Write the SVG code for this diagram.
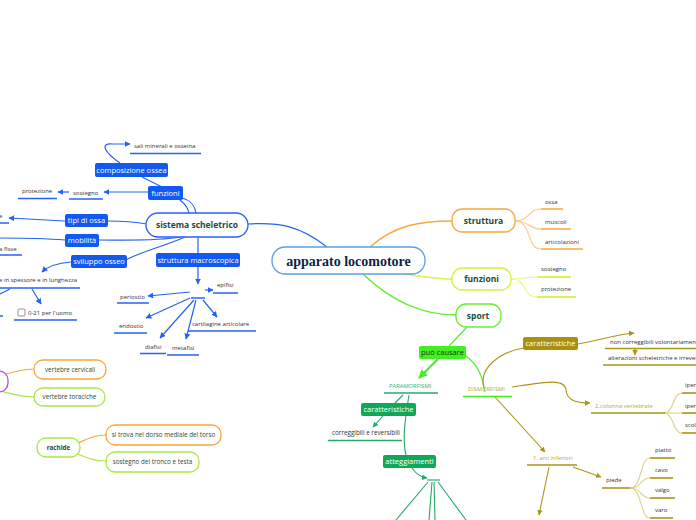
<svg xmlns="http://www.w3.org/2000/svg" width="696" height="520" viewBox="0 0 696 520">
<defs>
<style>
text{font-family:"Open Sans","Noto Sans",sans-serif;}
.sub{font-size:6px;fill:#333;}
.bx{font-size:7.5px;fill:#fff;text-anchor:middle;}
.nd{font-size:8.5px;font-weight:bold;fill:#1b4a3a;text-anchor:middle;}
.nds{font-size:6.3px;fill:#2a4a3a;text-anchor:middle;}
.bl{stroke:#2462f2;stroke-width:1.2;fill:none;}
.blu{stroke:#2462f2;stroke-width:1.5;fill:none;}
.gr{stroke:#22aa66;stroke-width:1.1;fill:none;}
.ol{stroke:#aa9418;stroke-width:1.1;fill:none;}
.olu{stroke:#aa9418;stroke-width:1.6;fill:none;}
.oll{stroke:#dcd088;stroke-width:1.1;fill:none;}
.node{fill:#fff;stroke-width:1.3;}
</style>
<marker id="ab" viewBox="0 0 10 10" refX="9" refY="5" markerWidth="5" markerHeight="5" orient="auto"><path d="M0,0 L10,5 L0,10 z" fill="#2462f2"/></marker>
<marker id="ag" viewBox="0 0 10 10" refX="9" refY="5" markerWidth="5" markerHeight="5" orient="auto"><path d="M0,0 L10,5 L0,10 z" fill="#22aa66"/></marker>
<marker id="agl" viewBox="0 0 10 10" refX="9" refY="5" markerWidth="4" markerHeight="4" orient="auto"><path d="M0,0 L10,5 L0,10 z" fill="#44ee22"/></marker>
<marker id="ao" viewBox="0 0 10 10" refX="9" refY="5" markerWidth="5" markerHeight="5" orient="auto"><path d="M0,0 L10,5 L0,10 z" fill="#aa9418"/></marker>
</defs>
<rect width="696" height="520" fill="#fff"/>

<g id="connectors">
<path d="M327,247 C300,226 280,222 248,224" class="bl" stroke-width="1.5"/>
<path d="M370,247 C395,225 420,221 452,221" fill="none" stroke="#f8a838" stroke-width="1.5"/>
<path d="M405,274 C430,278 440,279 452,279" fill="none" stroke="#dcf050" stroke-width="1.5"/>
<path d="M363,274 C390,300 420,315 456,315" fill="none" stroke="#66ee33" stroke-width="1.5"/>
<path d="M180,200 C185,204 188,208 189,213" class="bl"/>
<path d="M182,198 C190,200 195,206 196,213" class="bl"/>
<path d="M162,187 L142,177" class="bl"/>
<path d="M120,163 C104,152 100,143 112,144 L130,144" class="bl" marker-end="url(#ab)"/>
<path d="M148,192 L104,192" class="bl" marker-end="url(#ab)"/>
<path d="M69,192 L58,192" class="bl" marker-end="url(#ab)"/>
<path d="M147,224 C130,221 120,221 108,221" class="bl"/>
<path d="M65,221 L9,218" class="bl" marker-end="url(#ab)"/>
<path d="M180,237 C160,241 130,240 99,240" class="bl"/>
<path d="M65,240 C40,238 20,238 0,238" class="bl"/>
<path d="M185,237 C165,246 140,252 126,260" class="bl"/>
<path d="M71,262 C58,263 48,266 42,272" class="bl" marker-end="url(#ab)"/>
<path d="M32,289 L41,304" class="bl" marker-end="url(#ab)"/>
<path d="M10,289 L0,294" class="bl"/>
<path d="M198,237 L198,253" class="bl"/>
<path d="M198,267 L198,284" class="bl" marker-end="url(#ab)"/>
<path d="M205,290 L213,290" class="bl" marker-end="url(#ab)"/>
<path d="M190,292 L148,296" class="bl" marker-end="url(#ab)"/>
<path d="M190,298 L146,318" class="bl" marker-end="url(#ab)"/>
<path d="M194,300 L160,338" class="bl" marker-end="url(#ab)"/>
<path d="M196,300 L186,339" class="bl" marker-end="url(#ab)"/>
<path d="M203,300 L217,317" class="bl" marker-end="url(#ab)"/>
<path d="M0,376 C12,372 22,369 34,369" fill="none" stroke="#f8a838" stroke-width="1.2"/>
<path d="M0,391 C12,394 22,397 34,397" fill="none" stroke="#a8e848" stroke-width="1.2"/>
<path d="M78,443 C90,438 95,435 106,435" fill="none" stroke="#f8a838" stroke-width="1.2"/>
<path d="M78,454 C90,459 95,461 106,461" fill="none" stroke="#a8e848" stroke-width="1.2"/>
<path d="M515,221 C530,221 528,209 541,209" fill="none" stroke="#fcc888" stroke-width="1.1"/>
<path d="M515,221 C530,221 528,229 541,229" fill="none" stroke="#fcc888" stroke-width="1.1"/>
<path d="M515,221 C532,221 526,249 541,249" fill="none" stroke="#fcc888" stroke-width="1.1"/>
<path d="M511,279 C525,279 525,277 537,277" fill="none" stroke="#e8f590" stroke-width="1.1"/>
<path d="M511,279 C528,279 522,297 537,297" fill="none" stroke="#e8f590" stroke-width="1.1"/>
<path d="M467,327 L449,346" fill="none" stroke="#55ee33" stroke-width="1.2"/>
<path d="M438,359 L419,378" fill="none" stroke="#44ee22" stroke-width="2.2" marker-end="url(#agl)"/>
<path d="M466,356 C478,365 482,375 485,392" fill="none" stroke="#55ee33" stroke-width="1.2"/>
<path d="M403,395 L395,403" class="gr"/>
<path d="M383,416 L373,427" class="gr" marker-end="url(#ag)"/>
<path d="M409,395 C405,420 402,440 406,455" class="gr"/>
<path d="M412,468 C416,474 420,477 427,478" class="gr" marker-end="url(#ag)"/>
<path d="M427,480 L440,480" class="gr" stroke-width="1.5"/>
<path d="M428,482 L396,520" class="gr"/>
<path d="M432,482 L429,520" class="gr"/>
<path d="M434,482 L435,520" class="gr"/>
<path d="M438,482 L466,520" class="gr"/>
<path d="M484,388 C478,368 500,352 524,348" class="ol"/>
<path d="M578,344 C600,340 615,335 634,333" class="ol" marker-end="url(#ao)"/>
<path d="M635,349 L635,355" class="ol" marker-end="url(#ao)"/>
<path d="M512,387 C545,382 565,378 566,390 C567,400 575,403 590,403" class="ol" marker-end="url(#ao)"/>
<path d="M663,413 C675,413 672,393 682,393" class="oll"/>
<path d="M663,413 L682,413" class="oll"/>
<path d="M663,413 C675,413 672,433 682,433" class="oll"/>
<path d="M495,397 L545,452" class="ol" marker-end="url(#ao)"/>
<path d="M573,467 L601,477" class="ol" marker-end="url(#ao)"/>
<path d="M549,467 L539,515" class="ol" marker-end="url(#ao)"/>
<path d="M630,488 C642,488 640,458 650,458" class="oll"/>
<path d="M630,488 C642,488 640,478 650,478" class="oll"/>
<path d="M630,488 C642,488 640,498 650,498" class="oll"/>
<path d="M630,488 C642,488 640,518 650,518" class="oll"/>
</g>

<g id="central">
<rect x="272" y="247" width="153" height="27" rx="13" class="node" stroke="#5aa0e0"/>
<text x="348.5" y="265.5" text-anchor="middle" style="font-family:'Liberation Serif',serif;font-size:14px;font-weight:bold;fill:#0d1f45">apparato locomotore</text>
</g>

<g id="sistema">
<rect x="146" y="213" width="102" height="24" rx="12" class="node" stroke="#2a5cff"/>
<text x="197" y="228" class="nd">sistema scheletrico</text>
</g>
<g id="composizione"><rect x="95" y="163" width="73" height="14" rx="2" fill="#1259f2"/><text x="131.5" y="172.7" class="bx">composizione ossea</text></g>
<g id="sali"><text x="134" y="148" class="sub">sali minerali e osseina</text><line x1="130" y1="153.5" x2="201" y2="153.5" class="blu"/></g>
<g id="funzioni1"><rect x="148" y="186" width="35" height="14" rx="2" fill="#1259f2"/><text x="165.5" y="195.6" class="bx">funzioni</text></g>
<g id="sostegno1"><text x="73" y="194.5" class="sub">sostegno</text><line x1="69" y1="199" x2="103" y2="199" class="blu"/></g>
<g id="protezione1"><text x="22" y="193" class="sub">protezione</text><line x1="18" y1="198.5" x2="57" y2="198.5" class="blu"/></g>
<g id="tipi"><rect x="65" y="214" width="43" height="13" rx="2" fill="#1259f2"/><text x="86.5" y="223" class="bx">tipi di ossa</text></g>
<g id="tipi-sub"><text x="-1" y="218" class="sub">e</text><line x1="0" y1="223" x2="9" y2="223" class="blu"/></g>
<g id="mobilita"><rect x="65" y="234" width="34" height="13" rx="2" fill="#1259f2"/><text x="82" y="243" class="bx">mobilità</text></g>
<g id="fisse"><text x="-1" y="251" class="sub">a fisse</text><line x1="0" y1="255" x2="22" y2="255" class="blu"/></g>
<g id="sviluppo"><rect x="71" y="255" width="56" height="13" rx="2" fill="#1259f2"/><text x="99" y="264" class="bx">sviluppo osseo</text></g>
<g id="spessore"><text x="-1" y="282" class="sub">e in spessore e in lunghezza</text><line x1="0" y1="288" x2="80" y2="288" class="blu"/></g>
<g id="small"><line x1="0" y1="316" x2="3" y2="316" class="blu"/></g>
<g id="uomo"><rect x="18" y="309" width="7" height="7" rx="1" fill="#fff" stroke="#777" stroke-width="0.8"/><text x="28" y="315" class="sub">0-21 per l'uomo</text><line x1="14" y1="320" x2="77" y2="320" class="blu"/></g>
<g id="macro"><rect x="156" y="253" width="84" height="14" rx="2" fill="#1259f2"/><text x="198" y="262.6" class="bx">struttura macroscopica</text></g>
<g id="hub1"><line x1="191" y1="298" x2="205" y2="298" class="blu"/></g>
<g id="epifisi"><text x="217" y="287" class="sub">epifisi</text><line x1="213" y1="293" x2="238" y2="293" class="blu"/></g>
<g id="periostio"><text x="120" y="299" class="sub">periostio</text><line x1="117" y1="303" x2="149" y2="303" class="blu"/></g>
<g id="endostio"><text x="119" y="328" class="sub">endostio</text><line x1="114" y1="333" x2="147" y2="333" class="blu"/></g>
<g id="diafisi"><text x="145" y="349" class="sub">diafisi</text><line x1="140" y1="353.5" x2="166" y2="353.5" class="blu"/></g>
<g id="metafisi"><text x="172" y="350" class="sub">metafisi</text><line x1="167" y1="355" x2="199" y2="355" class="blu"/></g>
<g id="cartilagine"><text x="192" y="326" class="sub">cartilagine articolare</text><line x1="188" y1="331" x2="256" y2="331" class="blu"/></g>

<g id="purple"><rect x="-60" y="371" width="68" height="21" rx="9" class="node" stroke="#b848e8"/></g>
<g id="cervicali"><rect x="34" y="360" width="72" height="19" rx="9" class="node" stroke="#f8a838"/><text x="70" y="371.5" class="nds">vertebre cervicali</text></g>
<g id="toraciche"><rect x="34" y="388" width="71" height="18" rx="9" class="node" stroke="#a8e848"/><text x="69.5" y="399" class="nds">vertebre toraciche</text></g>
<g id="rachide"><rect x="37" y="438" width="43" height="19" rx="9" class="node" stroke="#a8e848"/><text x="58.5" y="450" class="nds" style="font-weight:bold">rachide</text></g>
<g id="dorso"><rect x="106" y="425" width="115" height="20" rx="9" class="node" stroke="#f8a838"/><text x="163.5" y="437" class="nds">si trova nel dorso mediale del torso</text></g>
<g id="tronco"><rect x="106" y="452" width="93" height="20" rx="9" class="node" stroke="#a8e848"/><text x="152.5" y="464" class="nds">sostegno del tronco e testa</text></g>

<g id="struttura"><rect x="452" y="209" width="63" height="23" rx="10" class="node" stroke="#f8a838"/><text x="483.5" y="223.5" class="nd">struttura</text></g>
<g id="ossa"><text x="545" y="204" class="sub">ossa</text><line x1="541" y1="209" x2="563" y2="209" stroke="#f8a838" stroke-width="1.5"/></g>
<g id="muscoli"><text x="545" y="224" class="sub">muscoli</text><line x1="541" y1="229" x2="571" y2="229" stroke="#f8a838" stroke-width="1.5"/></g>
<g id="articolazioni"><text x="545" y="244" class="sub">articolazioni</text><line x1="541" y1="249" x2="583" y2="249" stroke="#f8a838" stroke-width="1.5"/></g>
<g id="funzioni2"><rect x="452" y="268" width="59" height="22" rx="10" class="node" stroke="#d4f040"/><text x="481.5" y="282" class="nd">funzioni</text></g>
<g id="sostegno2"><text x="541" y="271" class="sub">sostegno</text><line x1="537" y1="277" x2="571" y2="277" stroke="#ccf020" stroke-width="1.5"/></g>
<g id="protezione2"><text x="541" y="291" class="sub">protezione</text><line x1="537" y1="297" x2="576" y2="297" stroke="#ccf020" stroke-width="1.5"/></g>
<g id="sport"><rect x="456" y="304" width="45" height="23" rx="10" class="node" stroke="#66ee33"/><text x="478" y="318.5" class="nd">sport</text></g>
<g id="puo"><rect x="419" y="346" width="47" height="13" rx="2" fill="#44ee22"/><text x="442.5" y="355" class="bx" style="fill:#1c3a1c">può causare</text></g>

<g id="paramorfismi"><text x="389" y="388" style="font-size:5.8px;fill:#30b070">PARAMORFISMI</text><line x1="384" y1="393" x2="438" y2="393" stroke="#22aa66" stroke-width="1.5"/></g>
<g id="caratt1"><rect x="361" y="403" width="55" height="13" rx="2" fill="#10a858"/><text x="388.5" y="412" class="bx">caratteristiche</text></g>
<g id="correggibili"><text x="332" y="435" class="sub" style="font-size:6.3px">correggibili e reversibili</text><line x1="328" y1="440.5" x2="402" y2="440.5" stroke="#22aa66" stroke-width="1.5"/></g>
<g id="atteggiamenti"><rect x="383" y="455" width="53" height="13" rx="2" fill="#10a858"/><text x="409.5" y="464" class="bx">atteggiamenti</text></g>

<g id="dismorfismi"><text x="468" y="391" style="font-size:5.8px;fill:#b8a838">DISMORFISMI</text><line x1="463" y1="396.5" x2="512" y2="396.5" stroke="#44ee22" stroke-width="1.5"/></g>
<g id="caratt2"><rect x="523" y="337" width="55" height="13" rx="2" fill="#a89010"/><text x="550.5" y="346" class="bx">caratteristiche</text></g>
<g id="noncorr"><text x="610" y="344" class="sub">non correggibili volontariamente</text><line x1="605" y1="348.5" x2="700" y2="348.5" class="olu"/></g>
<g id="alterazioni"><text x="608" y="360" class="sub">alterazioni scheletriche e irreversibili</text><line x1="603" y1="365" x2="700" y2="365" class="olu"/></g>
<g id="colonna"><text x="595" y="408" style="font-size:6px;fill:#b8a838">2.colonna vertebrale</text><line x1="591" y1="413" x2="665" y2="413" class="olu"/></g>
<g id="iper1"><text x="685" y="387" class="sub">ipercifosi</text><line x1="682" y1="393" x2="700" y2="393" class="olu"/></g>
<g id="iper2"><text x="685" y="408" class="sub">iperlordosi</text><line x1="682" y1="413" x2="700" y2="413" class="olu"/></g>
<g id="sco"><text x="685" y="427" class="sub">scoliosi</text><line x1="682" y1="433" x2="700" y2="433" class="olu"/></g>
<g id="arti"><text x="533" y="460" style="font-size:6px;fill:#b8a838">1. arti inferiori</text><line x1="527" y1="465" x2="577" y2="465" class="olu"/></g>
<g id="piede"><text x="606" y="482" class="sub">piede</text><line x1="602" y1="488" x2="630" y2="488" class="olu"/></g>
<g id="piatto"><text x="655" y="452" class="sub">piatto</text><line x1="650" y1="458" x2="675" y2="458" class="olu"/></g>
<g id="cavo"><text x="655" y="472" class="sub">cavo</text><line x1="650" y1="478" x2="673" y2="478" class="olu"/></g>
<g id="valgo"><text x="655" y="492" class="sub">valgo</text><line x1="650" y1="498" x2="675" y2="498" class="olu"/></g>
<g id="varo"><text x="655" y="512" class="sub">varo</text><line x1="650" y1="518" x2="673" y2="518" class="olu"/></g>
</svg>
